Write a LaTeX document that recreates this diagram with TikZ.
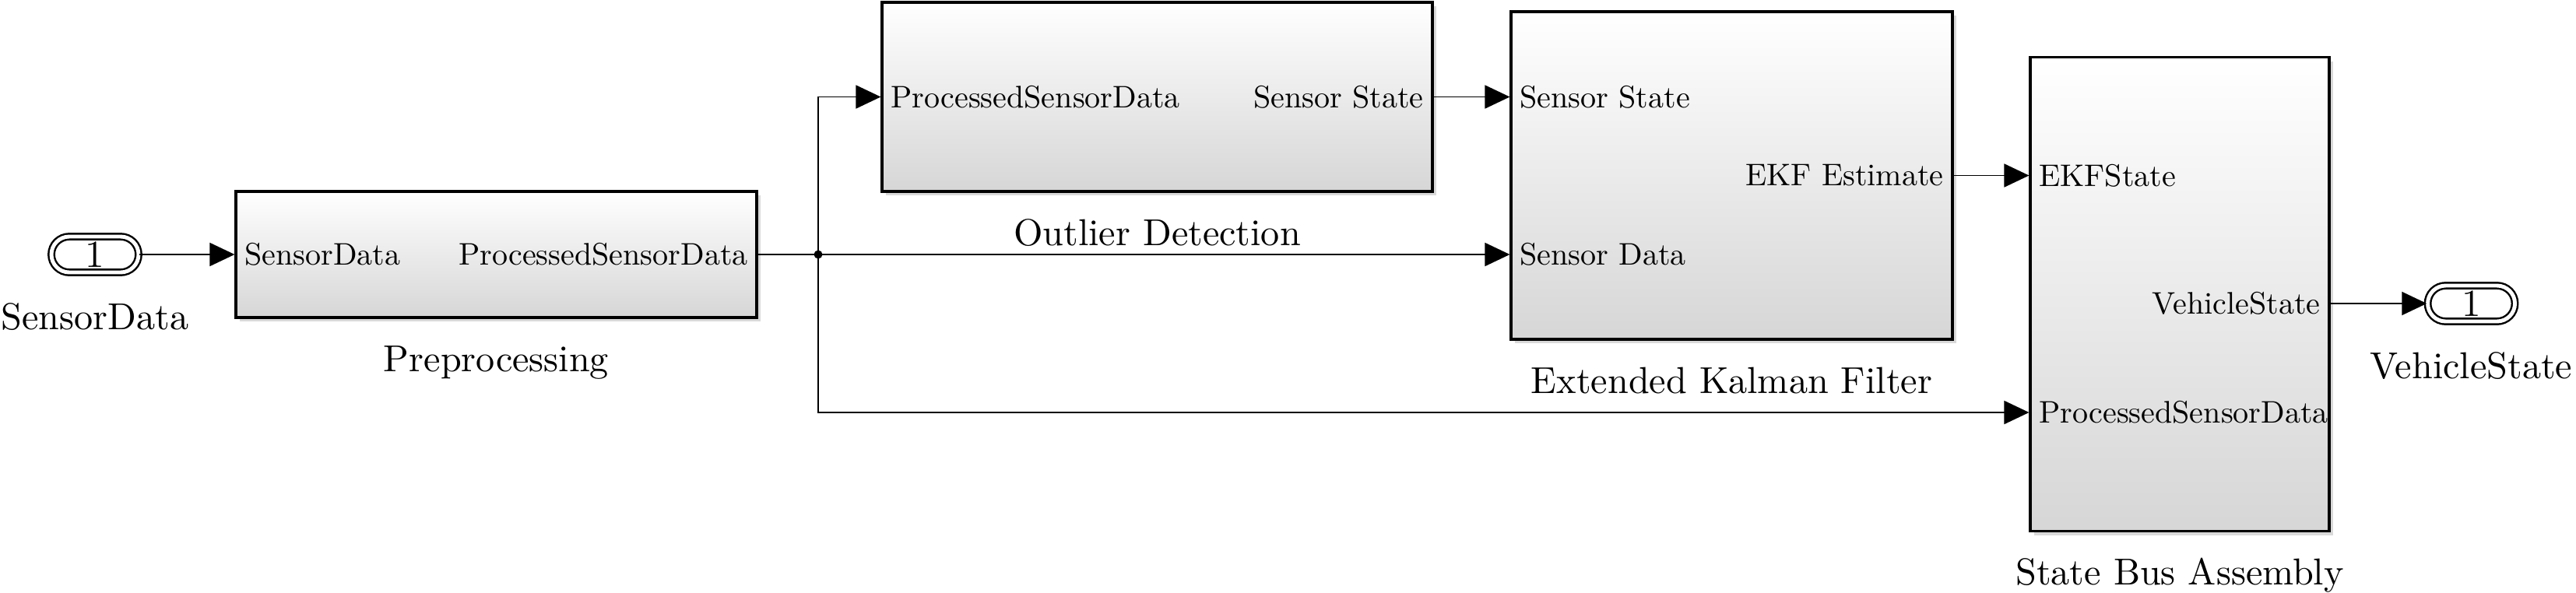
\documentclass[tikz,border=0pt]{standalone}
\usepackage{fontspec}
\setmainfont{lmroman10-regular.otf}
\usetikzlibrary{arrows.meta}
\usetikzlibrary{positioning}
\usetikzlibrary{shapes.misc}
\usetikzlibrary{shadows}
\newlength{\mygap}
\setlength{\mygap}{0.32cm}
\newlength{\myiogap}
\setlength{\myiogap}{0.36cm}
\newlength{\mypad}
\setlength{\mypad}{0.12cm}
\newcommand{\myportfont}{\fontsize{11.4}{13}\selectfont}
\newcommand{\mylabelfont}{\fontsize{13.7}{16}\selectfont}

\begin{document}
\begin{tikzpicture}[line width=0.5pt,
    block/.style={draw, line width=0.9pt, rectangle, top color=white, bottom color=black!16,
        drop shadow={shadow xshift=0.05cm, shadow yshift=-0.05cm, opacity=0.3}},
    io/.style={rounded rectangle, draw, double, double distance=1.4pt, line width=0.7pt,
        minimum width=1.12cm, minimum height=0.46cm, inner sep=0pt, font=\fontsize{14}{16}\selectfont},
    blabel/.style={inner sep=0pt, text height=0.35cm, text depth=0.1cm, font=\mylabelfont},
    iolabel/.style={inner sep=0pt, text height=0.35cm, text depth=0.1cm, font=\mylabelfont},
    portl/.style={anchor=west, inner xsep=\mypad, inner ysep=0pt, font=\myportfont},
    portr/.style={anchor=east, inner xsep=\mypad, inner ysep=0pt, font=\myportfont},
    sig/.style={-{Triangle[length=0.32cm, width=0.30cm]}},
    dot/.style={circle, fill, inner sep=0pt, minimum size=0.11cm}]

\useasboundingbox (0,0) rectangle (33.09,7.61);

\node[io] (in1) at (1.22,4.34) {1};
\node[iolabel, below=\myiogap of in1] (in1-lbl) {SensorData};

\node[block, minimum width=6.69cm, minimum height=1.62cm] (pre) at (6.375,4.34) {};
\node[blabel, below=\mygap of pre] (pre-lbl) {Preprocessing};
\node[portl] (pre-in) at (pre.west) {SensorData};
\node[portr] (pre-out) at (pre.east) {ProcessedSensorData};

\node[block, minimum width=7.07cm, minimum height=2.43cm] (outl) at (14.865,6.365) {};
\node[blabel, below=\mygap of outl] (outl-lbl) {Outlier Detection};
\node[portl] (outl-in) at (outl.west) {ProcessedSensorData};
\node[portr] (outl-out) at (outl.east) {Sensor State};

\node[block, minimum width=5.67cm, minimum height=4.21cm] (ekf) at (22.245,5.355) {};
\node[blabel, below=\mygap of ekf] (ekf-lbl) {Extended Kalman Filter};
\node[portl] (ekf-in1) at (ekf.west |- outl.east) {Sensor State};
\node[portl] (ekf-in2) at (ekf.west |- pre.east) {Sensor Data};
\node[portr] (ekf-out) at (ekf.east) {EKF Estimate};

\node[block, minimum width=3.84cm, minimum height=6.09cm] (bus) at (28.0,3.83) {};
\node[blabel, below=\mygap of bus] (bus-lbl) {State Bus Assembly};
\node[portl] (bus-in1) at (bus.west |- ekf.east) {EKFState};
\node[portl] (bus-in2) at ([yshift=-1.52cm]bus.west) {ProcessedSensorData};

\node[io] (out1) at (31.745,3.71) {1};
\node[iolabel, below=\myiogap of out1] (out1-lbl) {VehicleState};
\node[portr] (bus-out) at (bus.east |- out1.west) {VehicleState};

\node[dot] (j) at (10.51,4.34) {};

\draw[sig] (in1.east) -- (pre-in.west);
\draw[sig] (pre-out.east) -- (j.center) -- (ekf-in2.west);
\draw[sig] (j.center) |- (outl-in.west);
\draw[sig] (j.center) |- (bus-in2.west);
\draw[sig] (outl-out.east) -- (ekf-in1.west);
\draw[sig] (ekf-out.east) -- (bus-in1.west);
\draw[sig] (bus-out.east) -- (out1.west);
\end{tikzpicture}
\end{document}
